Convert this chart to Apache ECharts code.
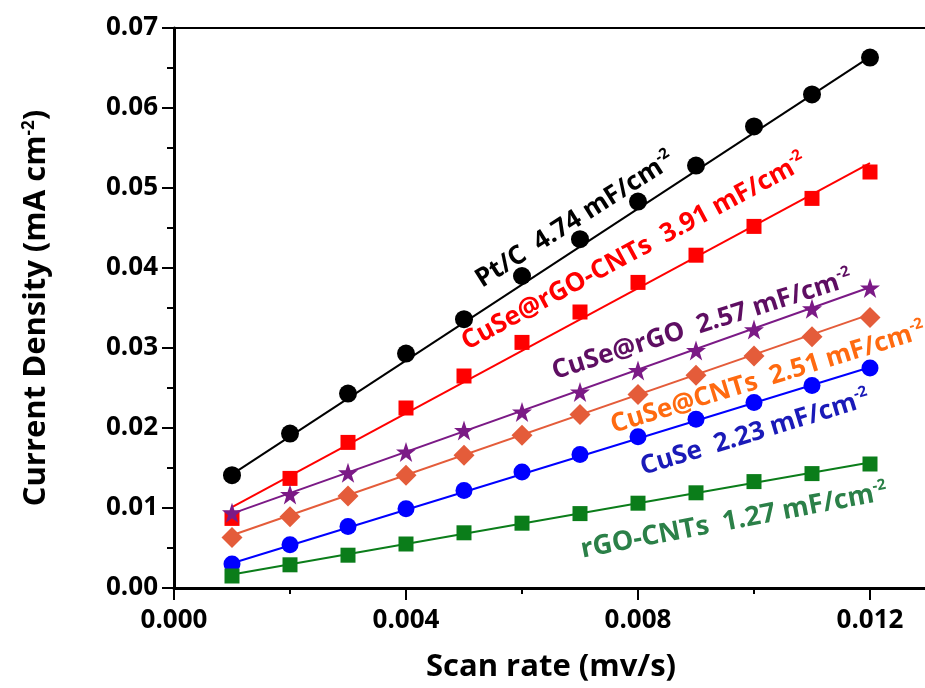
<!DOCTYPE html>
<html>
<head>
<meta charset="utf-8">
<script src="https://cdn.jsdelivr.net/npm/echarts@6/dist/echarts.min.js"></script>
<style>
html,body{margin:0;padding:0;background:#fff;}
#chart{width:925px;height:688px;}
</style>
</head>
<body>
<div id="chart"></div>
<script>
// ---- data ----
var scanRates = [0.001,0.002,0.003,0.004,0.005,0.006,0.007,0.008,0.009,0.010,0.011,0.012];
var seriesNames = ['Pt/C','CuSe@rGO-CNTs','CuSe@rGO','CuSe@CNTs','CuSe','rGO-CNTs'];
var ptc      = [0.0141,0.0193,0.0243,0.0293,0.0336,0.0390,0.0436,0.0483,0.0528,0.0577,0.0617,0.0663];
var cuseRgoCnt = [0.0087,0.0137,0.0182,0.0225,0.0265,0.0307,0.0345,0.0382,0.0416,0.0452,0.0487,0.0520];
var cuseRgo  = [0.0094,0.0117,0.0144,0.0170,0.0197,0.0220,0.0245,0.0272,0.0297,0.0323,0.0349,0.0375];
var cuseCnt  = [0.0063,0.0089,0.0115,0.0141,0.0166,0.0191,0.0217,0.0242,0.0266,0.0290,0.0314,0.0338];
var cuse     = [0.0030,0.0054,0.0077,0.0099,0.0122,0.0145,0.0167,0.0189,0.0211,0.0232,0.0253,0.0275];
var rgoCnt   = [0.0015,0.0029,0.0041,0.0055,0.0069,0.0081,0.0093,0.0106,0.0119,0.0133,0.0143,0.0155];
// linear-fit line end values at x = 0.001 and x = 0.012
var fitX     = [0.001, 0.012];
var fitPtc   = [0.0142, 0.0664];
var fitCuseRgoCnt = [0.0101, 0.0531];
var fitCuseRgo = [0.0093, 0.0376];
var fitCuseCnt = [0.0066, 0.0342];
var fitCuse  = [0.0031, 0.0276];
var fitRgoCnt = [0.0017, 0.0157];
var capacitances = ['4.74','3.91','2.57','2.51','2.23','1.27'];
var xTicks = [0, 0.004, 0.008, 0.012];
var xMinorTicks = [0.002, 0.006, 0.010];
var yTicks = [0, 0.01, 0.02, 0.03, 0.04, 0.05, 0.06, 0.07];

var FONT = '"Open Sans"';
var starPath = 'path://M50,2 L61.5,36 L97.5,36 L68.5,57.5 L79.5,92 L50,71 L20.5,92 L31.5,57.5 L2.5,36 L38.5,36 Z';

var seriesDefs = [
  {vals: ptc, fit: fitPtc, color:'#000000', symbol:'circle', size:18, text:'#000000', fs:26},
  {vals: cuseRgoCnt, fit: fitCuseRgoCnt, color:'#ff0000', symbol:'rect', size:15, text:'#ff0000', fs:26},
  {vals: cuseRgo, fit: fitCuseRgo, color:'#7b1a86', symbol:starPath, size:20, text:'#5e0e62', fs:26},
  {vals: cuseCnt, fit: fitCuseCnt, color:'#e45c3a', symbol:'diamond', size:21, text:'#ff6a10', fs:26},
  {vals: cuse, fit: fitCuse, color:'#0000ff', symbol:'circle', size:17, text:'#1a1ab8', fs:26},
  {vals: rgoCnt, fit: fitRgoCnt, color:'#0b7d1a', symbol:'rect', size:15, text:'#2b8048', fs:27}
];

function zip(xs, ys){ return xs.map(function(x,i){ return [x, ys[i]]; }); }

var series = [];
seriesDefs.forEach(function(d, i){
  series.push({
    name: seriesNames[i] + ' fit', type:'line', data: zip(fitX, d.fit),
    showSymbol:false, symbol:'none', lineStyle:{color:d.color, width:2}, z:2, silent:true, animation:false
  });
});
seriesDefs.forEach(function(d, i){
  series.push({
    name: seriesNames[i], type:'scatter', data: zip(scanRates, d.vals),
    symbol: d.symbol, symbolSize: d.size, itemStyle:{color:d.color, opacity:1}, z:3, animation:false
  });
});

// annotation label placement (pixels) and angle (deg)
var labelPos = [
  {x:575, y:220, rot:32.5},
  {x:634, y:252, rot:28.3},
  {x:702, y:325, rot:17.5},
  {x:768, y:378, rot:17},
  {x:755, y:433, rot:17},
  {x:734, y:521, rot:10.8}
];
var graphics = seriesDefs.map(function(d, i){
  var p = labelPos[i];
  return {
    type:'text', x:p.x, y:p.y, rotation: p.rot*Math.PI/180, z:10,
    style:{
      text: seriesNames[i] + '  ' + capacitances[i] + ' mF/cm{sup|-2}',
      fill: d.text, fontSize:d.fs, fontWeight:'bold', fontFamily:FONT,
      align:'center', verticalAlign:'middle', lineHeight:30,
      rich:{ sup:{ fontSize:15, fontWeight:'bold', fontFamily:FONT, fill:d.text, verticalAlign:'top', lineHeight:15 } }
    }
  };
});

var chart = echarts.init(document.getElementById('chart'), null, {renderer:'canvas'});
chart.setOption({
  backgroundColor:'#ffffff',
  animation:false,
  grid:{left:174, top:28, width:754, height:560, containLabel:false, outerBoundsMode:'none'},
  xAxis:[{
    type:'value', min:0, max:0.013, interval:0.004,
    name:'Scan rate (mv/s)', nameLocation:'middle', nameGap:64, nameMoveOverlap:false,
    nameTextStyle:{fontSize:31, fontWeight:'bold', fontFamily:FONT, color:'#000'},
    axisLine:{show:true, onZero:false, lineStyle:{color:'#000', width:3}},
    axisTick:{show:true, inside:false, length:12, customValues:xTicks, lineStyle:{color:'#000', width:2}},
    minorTick:{show:false},
    splitLine:{show:false},
    axisLabel:{show:true, customValues:xTicks, margin:20, fontSize:26, fontWeight:'bold', fontFamily:FONT, color:'#000',
      formatter:function(v){ return v.toFixed(3); }}
  },{
    // minor ticks of the bottom axis
    type:'value', position:'bottom', min:0, max:0.013,
    axisLine:{show:false}, axisLabel:{show:false}, splitLine:{show:false},
    axisTick:{show:true, inside:false, length:6, customValues:xMinorTicks, lineStyle:{color:'#000', width:2}}
  },{
    type:'value', position:'top', min:0, max:0.013,
    axisLine:{show:true, lineStyle:{color:'#000', width:2}},
    axisTick:{show:false}, axisLabel:{show:false}, splitLine:{show:false}
  }],
  yAxis:{
    type:'value', min:0, max:0.07, interval:0.01,
    name:'Current Density (mA cm{sup|-2})', nameLocation:'middle', nameGap:122, nameMoveOverlap:false,
    nameTextStyle:{fontSize:31, fontWeight:'bold', fontFamily:FONT, color:'#000',
      rich:{ sup:{fontSize:17, fontWeight:'bold', fontFamily:FONT, color:'#000', verticalAlign:'top', lineHeight:17} }},
    axisLine:{show:true, onZero:false, lineStyle:{color:'#000', width:3}},
    axisTick:{show:true, inside:false, length:12, lineStyle:{color:'#000', width:2}},
    minorTick:{show:true, splitNumber:2, length:7, lineStyle:{color:'#000', width:2}},
    splitLine:{show:false},
    axisLabel:{margin:16, fontSize:26, fontWeight:'bold', fontFamily:FONT, color:'#000',
      formatter:function(v){ return yTicks.some(function(t){return Math.abs(t-v)<1e-9;}) ? v.toFixed(2) : ''; }}
  },
  series: series,
  graphic: graphics
});
</script>
</body>
</html>
